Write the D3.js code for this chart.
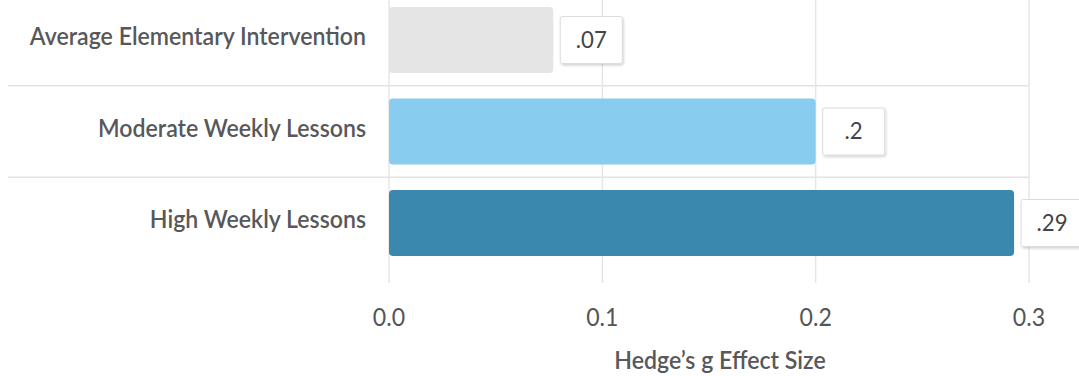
<!DOCTYPE html>
<html><head><meta charset="utf-8">
<script src="https://cdn.jsdelivr.net/npm/d3@7"></script>
<style>
html,body{margin:0;padding:0;background:#fff;}
svg{display:block;font-family:Lato,"Open Sans",sans-serif;}
</style></head>
<body>
<svg id="chart" width="1079" height="376"></svg>
<script>
const categories = ["Average Elementary Intervention", "Moderate Weekly Lessons", "High Weekly Lessons"];
const values = [0.077, 0.2, 0.293];
const valueLabels = [".07", ".2", ".29"];
const barColors = ["#e5e5e5", "#88cdef", "#3a88ae"];
const tickValues = [0, 0.1, 0.2, 0.3];
const tickLabels = ["0.0", "0.1", "0.2", "0.3"];
const axisTitle = "Hedge\u2019s g Effect Size";

const SX = 0.925; // condensed look of the original typeface
const svg = d3.select("#chart");
const x = d3.scaleLinear().domain([0, 0.3]).range([389, 1029]);
const y = d3.scaleBand().domain(categories).range([-5.75, 268.75]).paddingInner(0.28).paddingOuter(0.14);

const defs = svg.append("defs");
const f = defs.append("filter").attr("id","sh").attr("x","-20%").attr("y","-20%").attr("width","150%").attr("height","150%");
f.append("feDropShadow").attr("dx",1).attr("dy",1.5).attr("stdDeviation",1).attr("flood-color","#000").attr("flood-opacity",0.18);

// horizontal separators
svg.append("g").selectAll("line").data(categories.slice(1)).join("line")
  .attr("x1", 8).attr("x2", x(0.3))
  .attr("y1", d => y(d) - y.step()*y.paddingInner()/2)
  .attr("y2", d => y(d) - y.step()*y.paddingInner()/2)
  .attr("stroke", "#e3e3e3").attr("stroke-width", 1.5);

// vertical grid + ticks
svg.append("g").selectAll("line").data(tickValues).join("line")
  .attr("x1", d => x(d)).attr("x2", d => x(d))
  .attr("y1", 0).attr("y2", 283)
  .attr("stroke", "#e6e6e6").attr("stroke-width", 1.5);

// bars
svg.append("g").selectAll("rect").data(categories).join("rect")
  .attr("x", x(0))
  .attr("y", d => y(d))
  .attr("width", (d,i) => x(values[i]) - x(0))
  .attr("height", y.bandwidth())
  .attr("rx", 4).attr("ry", 4)
  .attr("fill", (d,i) => barColors[i]);

// value label boxes
const lb = svg.append("g").selectAll("g").data(categories).join("g")
  .attr("transform", (d,i) => `translate(${x(values[i]) + 7},${y(d) + y.bandwidth()/2})`);
lb.append("rect").attr("x", 0).attr("y", -23.5).attr("width", 62).attr("height", 47)
  .attr("rx", 2).attr("fill", "#fff").attr("stroke", "#dcdcdc").attr("stroke-width", 1)
  .attr("filter", "url(#sh)");
lb.append("text").attr("transform", `translate(31,7.5) scale(${SX},1)`).attr("text-anchor", "middle")
  .attr("font-size", 24).attr("fill", "#444").text((d,i) => valueLabels[i]);

// category labels
svg.append("g").selectAll("text").data(categories).join("text")
  .attr("transform", d => `translate(366,${y(d) + y.bandwidth()/2 + 5}) scale(${SX},1)`)
  .attr("text-anchor", "end").attr("font-size", 25).attr("font-weight", 600)
  .attr("fill", "#58585a").text(d => d);

// x tick labels
svg.append("g").selectAll("text").data(tickValues).join("text")
  .attr("transform", d => `translate(${x(d)},326) scale(${SX},1)`).attr("text-anchor", "middle")
  .attr("font-size", 25).attr("fill", "#555").text((d,i) => tickLabels[i]);

svg.append("text").attr("transform", `translate(720,369) scale(${SX},1)`).attr("text-anchor", "middle")
  .attr("font-size", 25).attr("font-weight", 600).attr("fill", "#58585a").text(axisTitle);
</script>
</body></html>
